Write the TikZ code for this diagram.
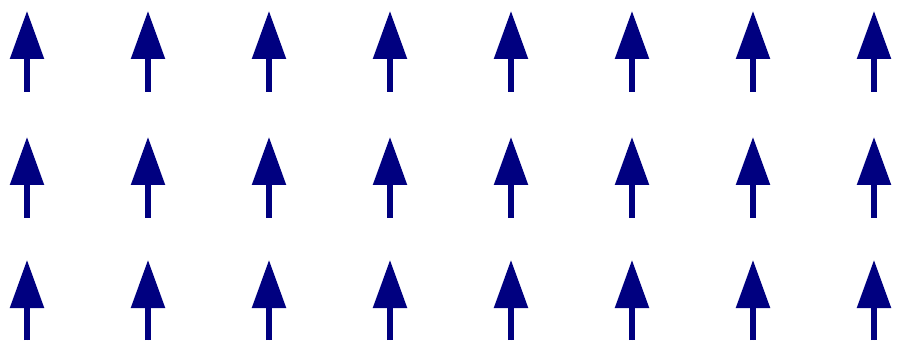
\documentclass[tikz,border=0pt]{standalone}
\usetikzlibrary{arrows.meta}
\definecolor{spin}{HTML}{000080}
\begin{document}
\begin{tikzpicture}[x=1pt,y=-1pt,
  spinarrow/.style={draw=spin,fill=spin,line width=5.5pt,line cap=butt,
    -{Triangle[length=48pt,width=33pt]}}]
\useasboundingbox (0,0) rectangle (903,350);
\foreach \col in {0,...,7}{
  \foreach \top/\bot [count=\r] in {11/92, 137/218, 260/340}{
    \pgfmathsetmacro{\xx}{27+121*\col}
    \coordinate (b\r-\col) at (\xx,\bot);
    \coordinate (t\r-\col) at (\xx,\top);
    \draw[spinarrow] (b\r-\col) -- (t\r-\col);
  }
}
\end{tikzpicture}
\end{document}
